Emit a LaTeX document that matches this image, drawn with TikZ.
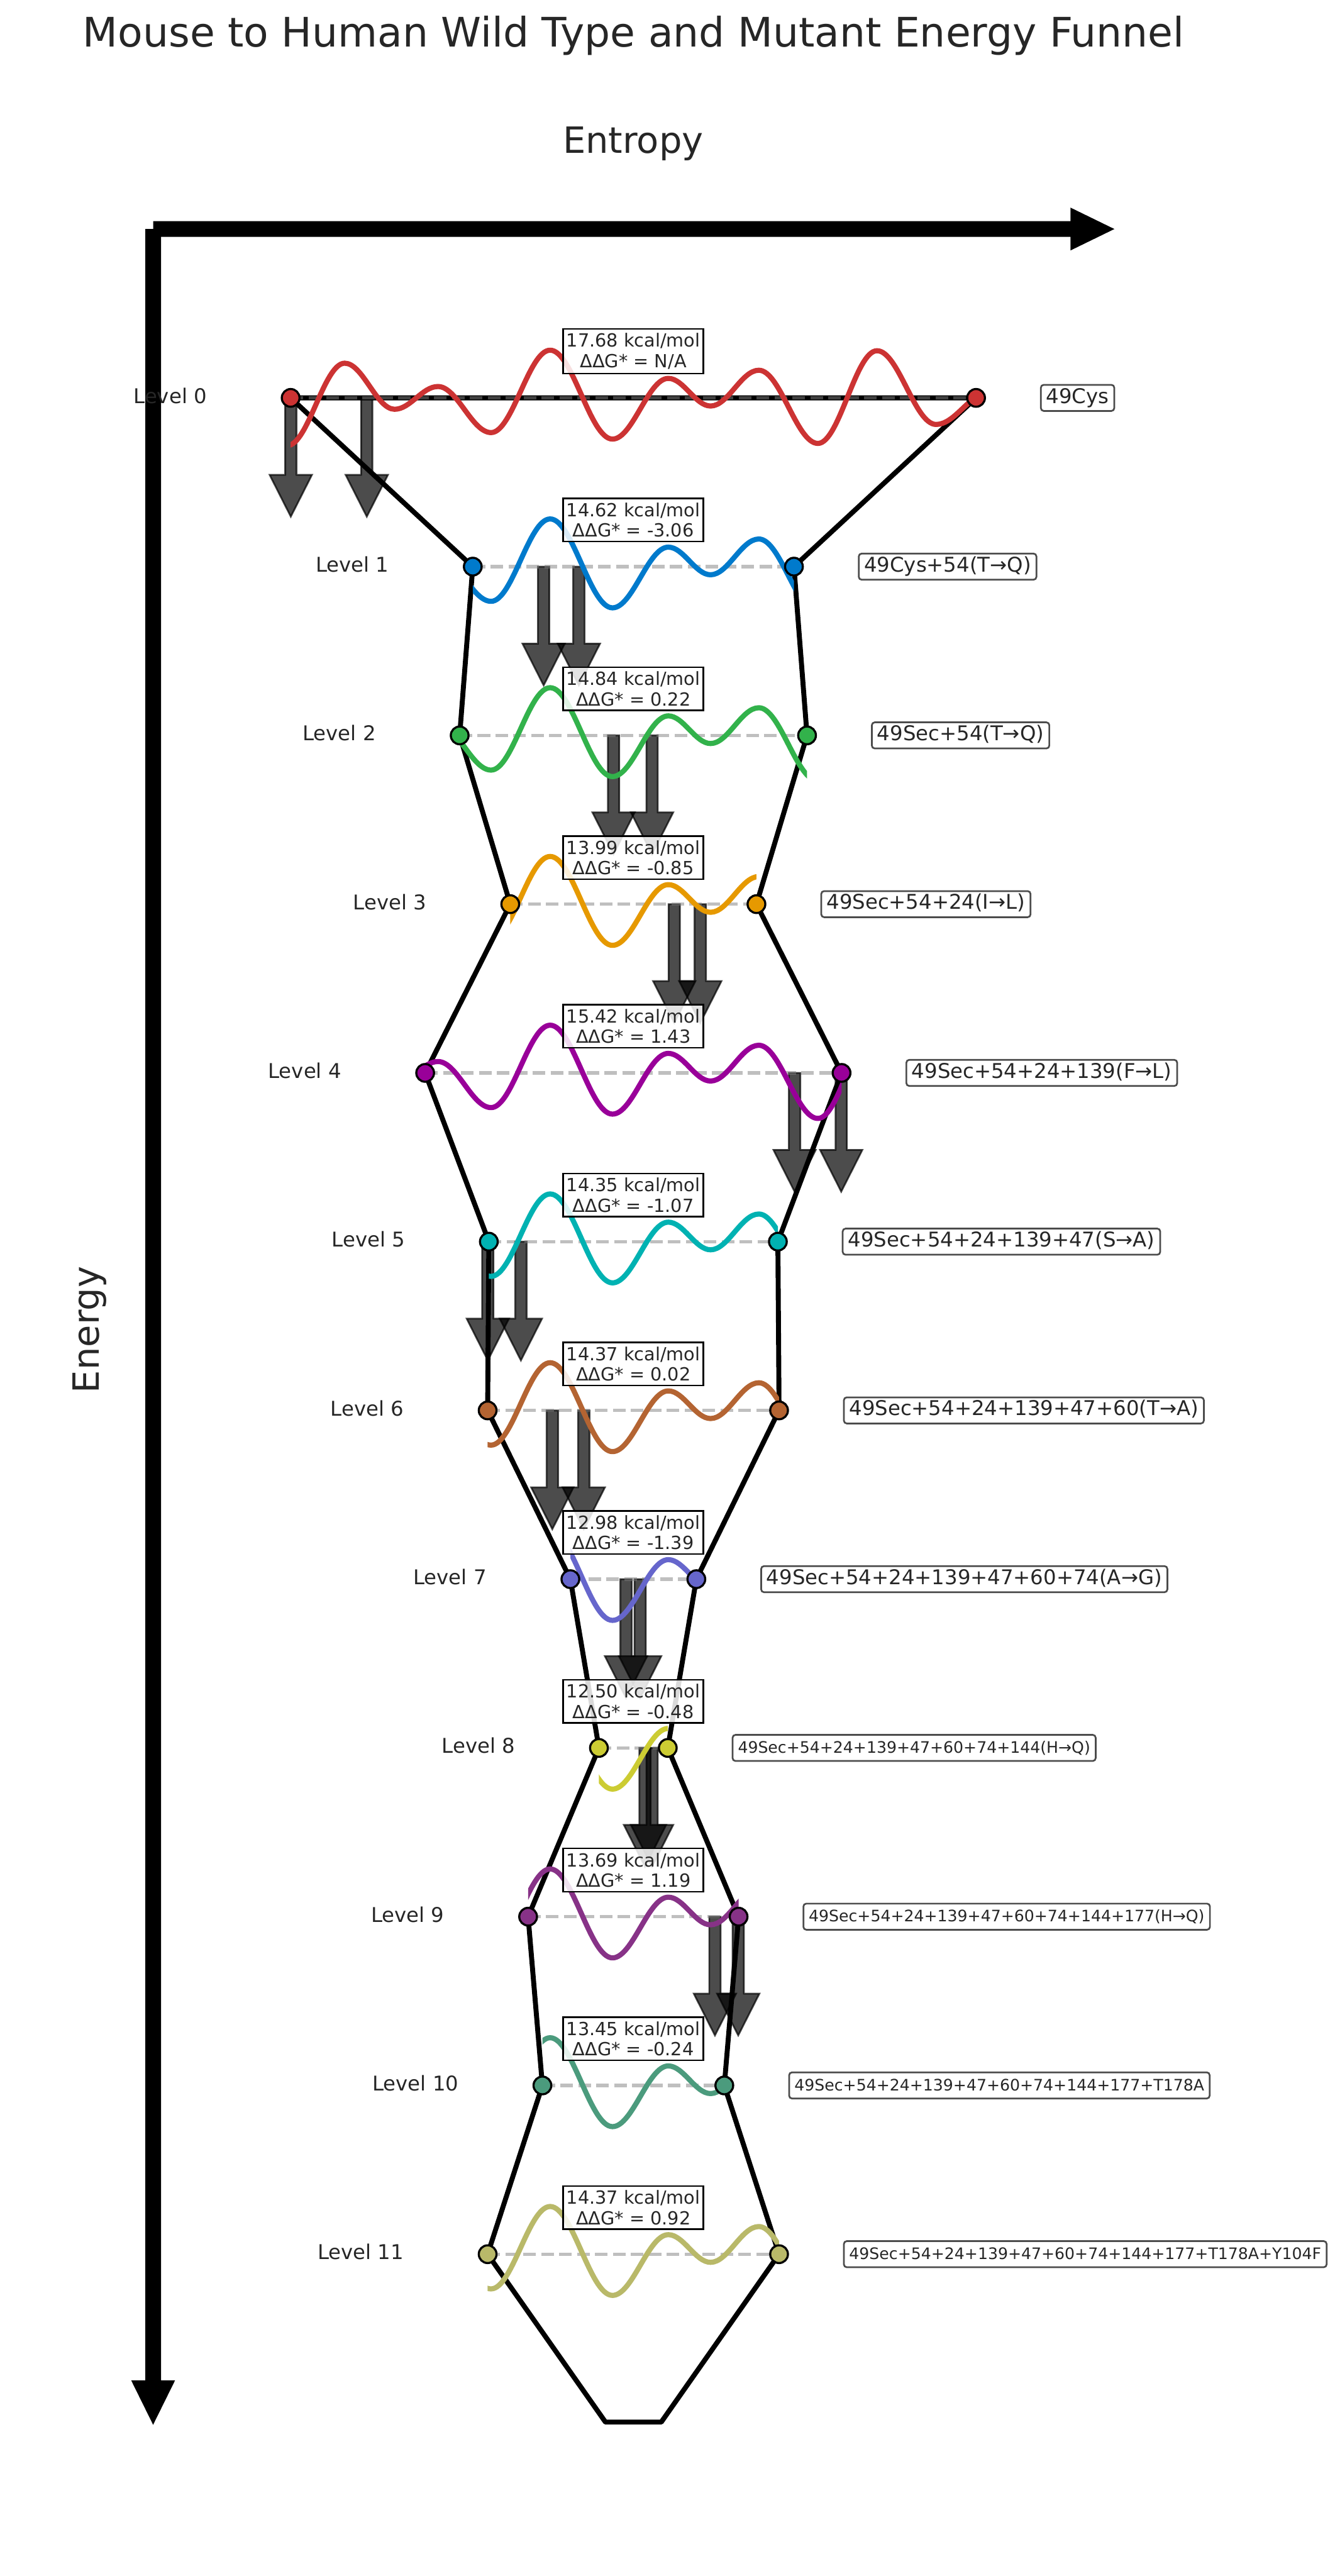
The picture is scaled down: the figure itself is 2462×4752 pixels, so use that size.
\documentclass[tikz,border=0pt]{standalone}
\usepackage{fontspec}
\setmainfont{DejaVu Sans}
\definecolor{ink}{HTML}{262626}
\definecolor{lv0}{HTML}{CC3333}
\definecolor{lv1}{HTML}{007ACC}
\definecolor{lv2}{HTML}{32B24B}
\definecolor{lv3}{HTML}{E69900}
\definecolor{lv4}{HTML}{990099}
\definecolor{lv5}{HTML}{00B2B2}
\definecolor{lv6}{HTML}{B46432}
\definecolor{lv7}{HTML}{6666CC}
\definecolor{lv8}{HTML}{CCCC33}
\definecolor{lv9}{HTML}{873287}
\definecolor{lv10}{HTML}{4B9B7D}
\definecolor{lv11}{HTML}{B9B969}
\begin{document}
\begin{tikzpicture}[x=0.01cm, y=-0.01cm,
  funnel/.style={line width=2.6pt, line join=round},
  levelline/.style={gray, opacity=0.5, line width=1.8pt, dash pattern=on 6.6pt off 2.8pt},
  wavecurve/.style={line width=2.7pt, line join=round},
  dot/.style={circle, draw=black, line width=1.1pt, minimum size=9.3pt, inner sep=0pt},
  ebox/.style={draw=black, line width=0.85pt, fill=white, fill opacity=0.85, text opacity=1,
    text=ink, align=center, inner xsep=1.7pt, inner ysep=2.3pt, font=\fontsize{9.48}{10.7}\selectfont},
  mutlabel/.style={draw=black!70, line width=0.9pt, rounded corners=1.5pt, fill=white, text=ink,
    anchor=west, inner xsep=0.28em, inner ysep=0.2em, text height=0.76em, text depth=0.21em},
  jumparrow/.style={fill=black, draw=black, fill opacity=0.7, draw opacity=0.7, line width=0.9pt},
  axisarrow/.style={fill=black}]
  \useasboundingbox (0,0) rectangle (2462,4752);
  \def\wave{(530,88)
    .. controls +(38.5,0) and +(-38.5,0) .. (636,-64)
    .. controls +(33.4,0) and +(-33.4,0) .. (728,21)
    .. controls +(29.1,0) and +(-29.1,0) .. (808,-21)
    .. controls +(35.6,0) and +(-35.6,0) .. (906,64)
    .. controls +(39.6,0) and +(-39.6,0) .. (1015,-88)
    .. controls +(41.8,0) and +(-41.8,0) .. (1130,76)
    .. controls +(37.4,0) and +(-37.4,0) .. (1233,-36)
    .. controls +(28.3,0) and +(-28.3,0) .. (1311,15)
    .. controls +(32.3,0) and +(-32.3,0) .. (1400,-51)
    .. controls +(39.6,0) and +(-39.6,0) .. (1509,84)
    .. controls +(39.6,0) and +(-39.6,0) .. (1618,-87)
    .. controls +(39.6,0) and +(-39.6,0) .. (1727,49)
    .. controls +(35.6,0) and +(-35.6,0) .. (1825,-10)}

  \fill[axisarrow] (282.5,408) -- (1975,408) -- (1975,383) -- (2056,422.5) -- (1975,462) -- (1975,437) -- (282.5,437) -- cycle;
  \fill[axisarrow] (268,422.5) -- (297,422.5) -- (297,4391) -- (323,4391) -- (282.5,4473) -- (242,4391) -- (268,4391) -- cycle;
  \node[font=\fontsize{21.34}{25}\selectfont, text=ink, anchor=base] (title) at (1169,87) {Mouse to Human Wild Type and Mutant Energy Funnel};
  \node[font=\fontsize{18.97}{22}\selectfont, text=ink, anchor=base] (xlab) at (1168,283) {Entropy};
  \node[font=\fontsize{18.97}{22}\selectfont, text=ink, anchor=base, rotate=90] (ylab) at (183,2453) {Energy};

  \foreach \i/\E in {0/17.68, 1/14.62, 2/14.84, 3/13.99, 4/15.42, 5/14.35,
      6/14.37, 7/12.98, 8/12.50, 9/13.69, 10/13.45, 11/14.37} {
    \pgfmathsetmacro\ly{734+311.3*\i}
    \pgfmathsetmacro\hw{109.8*(\E-12.5)+63.5}
    \coordinate (w\i) at (1168.5-\hw,\ly);
    \coordinate (e\i) at (1168.5+\hw,\ly);
  }
  \coordinate (bl) at (1117,4468);
  \coordinate (br) at (1220,4468);

  \foreach \i/\xa/\xb in {0/536.5/676.7, 1/1003/1068, 2/1132/1203, 3/1244/1292, 4/1466/1552,
      5/900/961, 6/1019/1077, 7/1155/1181, 8/1190/1203, 9/1319/1362} {
    \pgfmathsetmacro\ly{734+311.3*\i}
    \foreach \x in {\xa,\xb}
      \filldraw[jumparrow] (\x-10.5,\ly) -- (\x+10.5,\ly) -- (\x+10.5,\ly+142) -- (\x+39,\ly+142)
        -- (\x,\ly+219) -- (\x-39,\ly+142) -- (\x-10.5,\ly+142) -- cycle;
  }

  \draw[funnel] (w0) \foreach \i in {1,...,11} {-- (w\i)} -- (bl) -- (br)
    \foreach \i in {11,10,...,0} {-- (e\i)} -- cycle;

  \foreach \i/\E/\dg/\fs/\name in {
      0/17.68/{N/A}/10.67/{49Cys},
      1/14.62/-3.06/10.67/{49Cys+54(T→Q)},
      2/14.84/0.22/10.67/{49Sec+54(T→Q)},
      3/13.99/-0.85/10.67/{49Sec+54+24(I→L)},
      4/15.42/1.43/10.67/{49Sec+54+24+139(F→L)},
      5/14.35/-1.07/10.67/{49Sec+54+24+139+47(S→A)},
      6/14.37/0.02/10.67/{49Sec+54+24+139+47+60(T→A)},
      7/12.98/-1.39/10.67/{49Sec+54+24+139+47+60+74(A→G)},
      8/12.50/-0.48/8.30/{49Sec+54+24+139+47+60+74+144(H→Q)},
      9/13.69/1.19/8.30/{49Sec+54+24+139+47+60+74+144+177(H→Q)},
      10/13.45/-0.24/8.30/{49Sec+54+24+139+47+60+74+144+177+T178A},
      11/14.37/0.92/8.30/{49Sec+54+24+139+47+60+74+144+177+T178A+Y104F}} {
    \pgfmathsetmacro\ly{734+311.3*\i}
    \pgfmathsetmacro\hw{109.8*(\E-12.5)+63.5}
    \pgfmathsetmacro\xl{1168.5-\hw}
    \pgfmathsetmacro\xr{1168.5+\hw}
    \draw[levelline] (w\i) -- (e\i);
    \begin{scope}
      \clip (\xl,\ly-160) rectangle (\xr,\ly+160);
      \draw[wavecurve, lv\i, shift={(0,\ly)}] \wave;
    \end{scope}
    \node[dot, fill=lv\i] (dw\i) at (w\i) {};
    \node[dot, fill=lv\i] (de\i) at (e\i) {};
    \node[ebox] (en\i) at (1168.5,\ly-86) {\E\ kcal/mol\\ΔΔG* = \dg};
    \node[font=\fontsize{10.67}{12}\selectfont, text=ink, anchor=base east, inner sep=0pt] (lev\i) at (\xl-154,\ly+10) {Level \i};
    \node[mutlabel, font=\fontsize{\fs}{\fs}\selectfont] (mut\i) at (\xr+118,\ly) {\name};
  }
\end{tikzpicture}
\end{document}
